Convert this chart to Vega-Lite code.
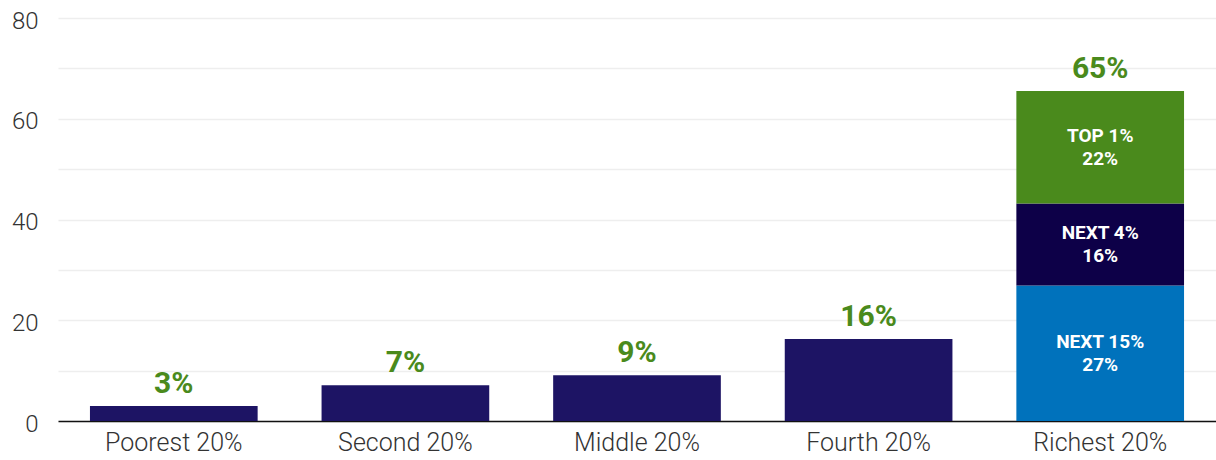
{
  "$schema": "https://vega.github.io/schema/vega-lite/v6.json",
  "autosize": "none",
  "padding": {"left": 58, "top": 18, "right": 0, "bottom": 39},
  "width": 1158,
  "height": 403,
  "background": "white",
  "config": {
    "view": {"stroke": null},
    "font": "Roboto"
  },
  "datasets": {
    "bars": [
      {"category": "Poorest 20%", "segment": "All", "order": 1, "value": 3.0, "label": ""},
      {"category": "Second 20%", "segment": "All", "order": 1, "value": 7.1, "label": ""},
      {"category": "Middle 20%", "segment": "All", "order": 1, "value": 9.1, "label": ""},
      {"category": "Fourth 20%", "segment": "All", "order": 1, "value": 16.3, "label": ""},
      {"category": "Richest 20%", "segment": "Next 15%", "order": 1, "value": 26.9, "label": "NEXT 15%\n27%"},
      {"category": "Richest 20%", "segment": "Next 4%", "order": 2, "value": 16.3, "label": "NEXT 4%\n16%"},
      {"category": "Richest 20%", "segment": "Top 1%", "order": 3, "value": 22.3, "label": "TOP 1%\n22%"}
    ],
    "totals": [
      {"category": "Poorest 20%", "total": 3.0, "label": "3%"},
      {"category": "Second 20%", "total": 7.1, "label": "7%"},
      {"category": "Middle 20%", "total": 9.1, "label": "9%"},
      {"category": "Fourth 20%", "total": 16.3, "label": "16%"},
      {"category": "Richest 20%", "total": 65.5, "label": "65%"}
    ]
  },
  "encoding": {
    "x": {
      "field": "category",
      "type": "nominal",
      "sort": ["Poorest 20%", "Second 20%", "Middle 20%", "Fourth 20%", "Richest 20%"],
      "scale": {"paddingInner": 0.276, "paddingOuter": 0.138},
      "axis": {
        "title": null,
        "labelAngle": 0,
        "labelFont": "Roboto",
        "labelFontWeight": 300,
        "labelFontSize": 25,
        "labelColor": "#333333",
        "labelPadding": 9,
        "ticks": false,
        "domainColor": "#111111",
        "domainWidth": 1.5,
        "grid": false
      }
    }
  },
  "layer": [
    {
      "data": {"name": "bars"},
      "mark": {"type": "bar"},
      "encoding": {
        "y": {
          "field": "value",
          "type": "quantitative",
          "stack": "zero",
          "scale": {"domain": [0, 80], "nice": false},
          "axis": {
            "title": null,
            "values": [0, 10, 20, 30, 40, 50, 60, 70, 80],
            "labelExpr": "datum.value % 20 == 0 ? datum.label : ''",
            "gridColor": "#eeeeee",
            "gridWidth": 1.5,
            "domain": false,
            "ticks": false,
            "labelFont": "Roboto",
            "labelFontWeight": 300,
            "labelFontSize": 24,
            "labelColor": "#333333",
            "labelPadding": 20,
            "labelOffset": 3
          }
        },
        "order": {"field": "order", "type": "quantitative"},
        "color": {
          "field": "segment",
          "type": "nominal",
          "legend": null,
          "scale": {
            "domain": ["All", "Next 15%", "Next 4%", "Top 1%"],
            "range": ["#1d1464", "#0072bc", "#0d0048", "#4a8a1c"]
          }
        }
      }
    },
    {
      "data": {"name": "bars"},
      "transform": [
        {"filter": "datum.label != ''"},
        {"stack": "value", "groupby": ["category"], "sort": [{"field": "order", "order": "ascending"}], "as": ["v0", "v1"]},
        {"fold": ["v0", "v1"], "as": ["edge", "pos"]},
        {"aggregate": [{"op": "mean", "field": "pos", "as": "mid"}], "groupby": ["category", "segment", "label"]}
      ],
      "mark": {
        "type": "text",
        "color": "white",
        "font": "Roboto",
        "fontWeight": "bold",
        "fontSize": 19,
        "lineHeight": 23,
        "baseline": "middle",
        "align": "center",
        "lineBreak": "\n",
        "dy": -11
      },
      "encoding": {
        "y": {"field": "mid", "type": "quantitative"},
        "text": {"field": "label", "type": "nominal"}
      }
    },
    {
      "data": {"name": "totals"},
      "mark": {
        "type": "text",
        "color": "#4a8a1c",
        "font": "Roboto",
        "fontWeight": "bold",
        "fontSize": 30,
        "baseline": "middle",
        "align": "center",
        "dy": -22
      },
      "encoding": {
        "y": {"field": "total", "type": "quantitative"},
        "text": {"field": "label", "type": "nominal"}
      }
    }
  ]
}
